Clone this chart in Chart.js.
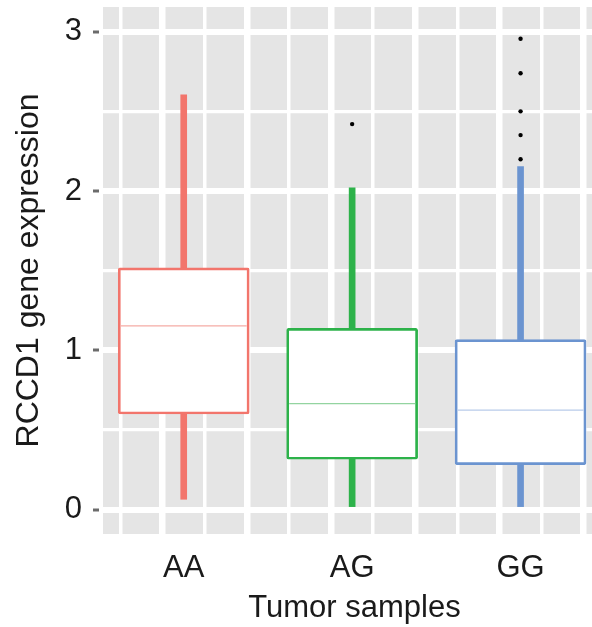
<!DOCTYPE html>
<html>
<head>
<meta charset="utf-8">
<script src="https://cdn.jsdelivr.net/npm/chart.js@4"></script>
<style>
  html, body { margin: 0; padding: 0; background: #fff; }
  #wrap { width: 592px; height: 627px; overflow: hidden; }
</style>
</head>
<body>
<div id="wrap"><canvas id="boxChart" width="610" height="627"></canvas></div>
<script>
// genotype groups
const categories = ['AA', 'AG', 'GG'];
// box plot summaries per group
const lowerWhisker = [0.065, 0.0, 0.0];
const q1 = [0.60, 0.316, 0.282];
const median = [1.153, 0.665, 0.625];
const q3 = [1.517, 1.138, 1.067];
const upperWhisker = [2.603, 2.02, 2.153];
// outliers: [group position, value]
const outliers = [[2, 2.42], [3, 2.199], [3, 2.351], [3, 2.50], [3, 2.739], [3, 2.956]];
// axis ticks
const yTicks = [0, 0.5, 1, 1.5, 2, 2.5, 3];
const xGrid = [0.75, 1, 1.25, 1.5, 1.75, 2, 2.25, 2.5, 2.75, 3, 3.25, 3.5];

const lineColors = ['#F2756C', '#2DB24A', '#6B94D0'];
const medianColors = ['#F5ABA5', '#93D4A0', '#B8CBEA'];

const pos = categories.map((c, i) => i + 1);

const panelBg = {
    id: 'panelBg',
    beforeDraw(chart) {
        const a = chart.chartArea;
        const ctx = chart.ctx;
        ctx.save();
        ctx.fillStyle = '#E5E5E5';
        ctx.fillRect(a.left + 4, a.top, a.right - a.left - 4, a.bottom - a.top);
        ctx.restore();
    }
};

const ctx = document.getElementById('boxChart').getContext('2d');
const boxChart = new Chart(ctx, {
    type: 'bar',
    data: {
        datasets: [
            {
                label: 'lower whisker',
                data: pos.map((x, i) => ({ x: x, y: [lowerWhisker[i], q1[i]] })),
                backgroundColor: lineColors,
                barThickness: 6,
                grouped: false,
                order: 3,
            },
            {
                label: 'upper whisker',
                data: pos.map((x, i) => ({ x: x, y: [q3[i], upperWhisker[i]] })),
                backgroundColor: lineColors,
                barThickness: 6,
                grouped: false,
                order: 3,
            },
            {
                label: 'box',
                data: pos.map((x, i) => ({ x: x, y: [q1[i], q3[i]] })),
                backgroundColor: '#FFFFFF',
                borderColor: lineColors,
                borderWidth: 2.7,
                borderSkipped: false,
                borderRadius: 2,
                barThickness: 131,
                grouped: false,
                order: 2,
            },
            {
                type: 'scatter',
                label: 'median',
                data: pos.map((x, i) => ({ x: x, y: median[i] })),
                pointStyle: 'line',
                pointRadius: 63,
                pointHoverRadius: 63,
                borderWidth: 1.3,
                borderColor: medianColors,
                order: 1,
            },
            {
                type: 'scatter',
                label: 'outliers',
                data: outliers.map(o => ({ x: o[0], y: o[1] })),
                pointRadius: 2.2,
                pointBackgroundColor: '#000',
                pointBorderWidth: 0,
                order: 0,
            },
        ]
    },
    options: {
        responsive: false,
        animation: false,
        layout: { autoPadding: false, padding: { top: 7, right: 0, left: 0, bottom: 0 } },
        scales: {
            x: {
                type: 'linear',
                offset: false,
                min: 0.497,
                max: 3.531,
                afterBuildTicks: (axis) => { axis.ticks = xGrid.map(v => ({ value: v })); },
                afterFit: (axis) => {
                    axis.height = 93;
                    axis.paddingLeft = 0;
                    axis.paddingRight = 0;
                },
                border: { display: false },
                grid: {
                    color: '#FFFFFF',
                    lineWidth: (c) => (c.tick && c.tick.value % 0.5 === 0 ? 6.5 : 3.5),
                    drawTicks: false,
                },
                ticks: {
                    autoSkip: false,
                    maxRotation: 0,
                    padding: 16,
                    color: '#1a1a1a',
                    font: { family: 'Liberation Sans', size: 31 },
                    callback: (v) => (Number.isInteger(v) ? categories[v - 1] : ''),
                },
                title: {
                    display: true,
                    text: 'Tumor samples',
                    color: '#1a1a1a',
                    font: { family: 'Liberation Sans', size: 31 },
                    padding: { top: 0, bottom: 0 },
                },
            },
            y: {
                min: -0.153,
                max: 3.155,
                afterBuildTicks: (axis) => { axis.ticks = yTicks.map(v => ({ value: v })); },
                afterFit: (axis) => {
                    axis.width = 99;
                    axis.paddingTop = 0;
                    axis.paddingBottom = 0;
                },
                border: { display: false },
                grid: {
                    color: '#FFFFFF',
                    lineWidth: (c) => (c.tick && Number.isInteger(c.tick.value) ? 6 : 3.3),
                    tickLength: 6,
                    tickWidth: 3,
                    tickColor: (c) => (c.tick && Number.isInteger(c.tick.value) ? '#6B6B6B' : 'rgba(0,0,0,0)'),
                },
                ticks: {
                    autoSkip: false,
                    padding: 11,
                    color: '#1a1a1a',
                    font: { family: 'Liberation Sans', size: 31 },
                    callback: (v) => (Number.isInteger(v) ? String(v) : ''),
                },
                title: {
                    display: true,
                    text: 'RCCD1 gene expression',
                    color: '#1a1a1a',
                    font: { family: 'Liberation Sans', size: 32 },
                    padding: { top: 10, bottom: 0 },
                },
            },
        },
        plugins: {
            legend: { display: false },
            tooltip: { enabled: false },
        },
    },
    plugins: [panelBg],
});
</script>
</body>
</html>
